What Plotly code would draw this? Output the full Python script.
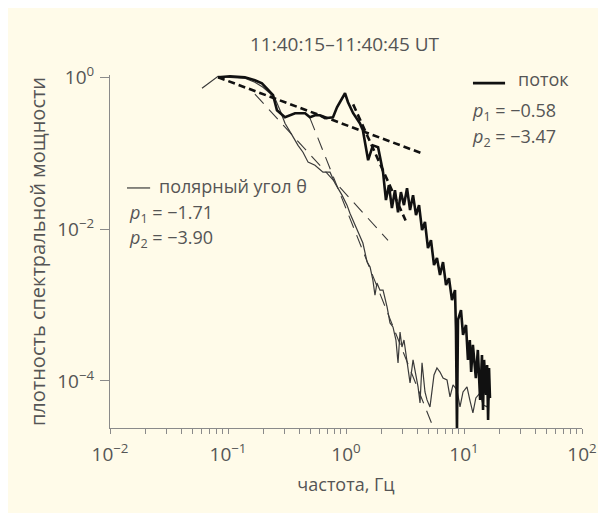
import plotly.graph_objects as go

# ---- data ----
flux_f = [0.0823, 0.104, 0.139, 0.169, 0.194, 0.241, 0.260, 0.304, 0.370, 0.450, 0.495, 0.546,
          0.602, 0.664, 0.776, 0.839, 0.981, 1.04, 1.15, 1.31, 1.39, 1.54, 1.69, 1.87, 2.06,
          2.18, 2.31, 2.45, 2.60, 2.76, 2.92, 3.10, 3.29, 3.49, 3.70, 3.92, 4.16, 4.41, 4.67,
          4.95, 5.25, 5.57, 5.90, 6.26, 6.64, 7.04, 7.46, 7.91, 8.39, 8.55, 8.72, 8.89, 9.43,
          9.81, 10.4, 10.8, 11.2, 11.5, 11.9, 12.6, 13.1, 13.7, 14.2, 14.5, 14.8, 15.4, 15.7,
          16.0, 16.3, 16.6]
flux_p = [1.0, 1.03, 1.0, 0.913, 0.834, 0.580, 0.368, 0.298, 0.336, 0.336, 0.298, 0.316,
          0.316, 0.289, 0.298, 0.403, 0.616, 0.469, 0.336, 0.248, 0.201, 0.0809, 0.127, 0.120,
          0.0562, 0.0241, 0.0379, 0.0189, 0.0326, 0.0167, 0.0307, 0.0207, 0.0346, 0.0178,
          0.0280, 0.0153, 0.0207, 0.00970, 0.0124, 0.00562, 0.00716, 0.00336, 0.00415,
          0.00248, 0.00368, 0.00183, 0.00226, 0.00116, 0.00157, 0.000469, 0.0000213,
          0.000635, 0.000859, 0.000403, 0.000546, 0.000189, 0.000346, 0.000131, 0.000298,
          0.000109, 0.000256, 0.0000562, 0.000220, 0.0000415, 0.000189, 0.0000655, 0.000162,
          0.0000307, 0.000148, 0.0000597]

theta_f = [0.0602, 0.0704, 0.0823, 0.104, 0.139, 0.169, 0.198, 0.227, 0.250, 0.276, 0.304,
           0.349, 0.392, 0.432, 0.477, 0.546, 0.638, 0.732, 0.807, 0.925, 1.02, 1.08, 1.19,
           1.31, 1.39, 1.51, 1.60, 1.69, 1.76, 1.83, 1.94, 2.06, 2.23, 2.36, 2.50, 2.65, 2.76,
           2.87, 2.98, 3.10, 3.29, 3.49, 3.70, 3.92, 4.08, 4.24, 4.41, 4.67, 4.86, 5.15, 5.35,
           5.57, 5.90, 6.26, 6.64, 7.18, 7.61, 8.07, 8.72, 9.25, 9.81, 10.6, 11.2, 11.9, 12.6,
           13.7, 14.5, 15.7, 16.3]
theta_p = [0.717, 0.859, 1.03, 1.0, 0.970, 0.859, 0.739, 0.616, 0.529, 0.368, 0.248, 0.173,
           0.127, 0.103, 0.0762, 0.0695, 0.0562, 0.0562, 0.0403, 0.0280, 0.0207, 0.0162,
           0.0113, 0.00785, 0.00655, 0.00368, 0.00316, 0.00213, 0.00135, 0.00195, 0.00157,
           0.00157, 0.000941, 0.000580, 0.000514, 0.000346, 0.000173, 0.000441, 0.000280,
           0.000346, 0.000189, 0.0000941, 0.000189, 0.000120, 0.0000834, 0.0000514, 0.000173,
           0.0000716, 0.0000562, 0.0000455, 0.0000762, 0.000120, 0.000148, 0.000131, 0.000109,
           0.000103, 0.0000616, 0.0000886, 0.0000762, 0.0000455, 0.0000716, 0.0000834,
           0.0000562, 0.0000379, 0.0000597, 0.0000695, 0.0000483, 0.0000455, 0.0000597]

# power-law fits (end points)
flux_fit1_f = [0.0823, 4.41]
flux_fit1_p = [1.0, 0.0994]
flux_fit2_f = [1.15, 3.2]
flux_fit2_p = [0.44, 0.013]
theta_fit1_f = [0.169, 2.27]
theta_fit1_p = [0.602, 0.00713]
theta_fit2_f = [0.495, 6.26]
theta_fit2_p = [0.290, 0.0000146]

x_major = [0.01, 0.1, 1, 10, 100]
x_major_text = ["10<sup>−2</sup>", "10<sup>−1</sup>", "10<sup>0</sup>", "10<sup>1</sup>", "10<sup>2</sup>"]
y_major = [1, 0.01, 0.0001]
y_major_text = ["10<sup>0</sup>", "10<sup>−2</sup>", "10<sup>−4</sup>"]

# minor tick positions (2..9 within each decade)
x_minor = [d * m for d in x_major[:-1] for m in range(2, 10)]

TXT = "#555555"
BG = "#fffbe9"
FONT = "Open Sans, Noto Sans, sans-serif"

fig = go.Figure()
fig.add_trace(go.Scatter(x=theta_f, y=theta_p, mode="lines",
                         line=dict(color="#3a3a3a", width=1.2), showlegend=False))
fig.add_trace(go.Scatter(x=theta_fit1_f, y=theta_fit1_p, mode="lines",
                         line=dict(color="#3a3a3a", width=1.1, dash="13px,8px"), showlegend=False))
fig.add_trace(go.Scatter(x=theta_fit2_f, y=theta_fit2_p, mode="lines",
                         line=dict(color="#3a3a3a", width=1.1, dash="13px,8px"), showlegend=False))
fig.add_trace(go.Scatter(x=flux_f, y=flux_p, mode="lines",
                         line=dict(color="#111111", width=2.6), showlegend=False))
fig.add_trace(go.Scatter(x=flux_fit1_f, y=flux_fit1_p, mode="lines",
                         line=dict(color="#111111", width=2.6, dash="7px,4px"), showlegend=False))
fig.add_trace(go.Scatter(x=flux_fit2_f, y=flux_fit2_p, mode="lines",
                         line=dict(color="#111111", width=2.6, dash="7px,4px"), showlegend=False))

axis_common = dict(type="log", showgrid=False, zeroline=False, showline=True, automargin=False,
                   linecolor="#8a8a8a", linewidth=1, ticks="outside", tickcolor="#8a8a8a",
                   tickfont=dict(family=FONT, size=19, color=TXT), mirror=False)

fig.update_xaxes(**axis_common, range=[-2, 2], tickmode="array", tickvals=x_major,
                 ticktext=x_major_text, ticklen=5, ticklabelstandoff=4,
                 minor=dict(tickmode="array", tickvals=x_minor, ticks="outside", ticklen=5,
                            tickcolor="#8a8a8a", showgrid=False),
                 title=dict(text="частота, Гц", font=dict(family=FONT, size=18, color=TXT),
                            standoff=12))
fig.update_yaxes(**axis_common, range=[-4.62, 0.03], tickmode="array", tickvals=y_major,
                 ticktext=y_major_text, ticklen=9, ticklabelstandoff=2,
                 title=dict(text="плотность спектральной мощности",
                            font=dict(family=FONT, size=20, color=TXT), standoff=6))

ann_font = dict(family=FONT, size=18, color=TXT)
anns = [
    dict(x=0.498, y=1.088, text="11:40:15–11:40:45 UT", xanchor="center", yanchor="middle",
         font=dict(family=FONT, size=19, color=TXT)),
    dict(x=0.860, y=0.988, text="поток", xanchor="left", yanchor="middle", font=ann_font),
    dict(x=0.763, y=0.898, text="<i>p</i><sub>1</sub> = −0.58", xanchor="left", yanchor="middle", font=ann_font),
    dict(x=0.763, y=0.824, text="<i>p</i><sub>2</sub> = −3.47", xanchor="left", yanchor="middle", font=ann_font),
    dict(x=0.0996, y=0.686, text="полярный угол θ", xanchor="left", yanchor="middle", font=ann_font),
    dict(x=0.036, y=0.609, text="<i>p</i><sub>1</sub> = −1.71", xanchor="left", yanchor="middle", font=ann_font),
    dict(x=0.036, y=0.538, text="<i>p</i><sub>2</sub> = −3.90", xanchor="left", yanchor="middle", font=ann_font),
]
for a in anns:
    a.update(xref="paper", yref="paper", showarrow=False)

shapes = [
    dict(type="line", xref="paper", yref="paper", x0=0.769, x1=0.837, y0=0.977, y1=0.977,
         line=dict(color="#111111", width=2.6)),
    dict(type="line", xref="paper", yref="paper", x0=0.036, x1=0.085, y0=0.680, y1=0.680,
         line=dict(color="#3a3a3a", width=1.2)),
]

# the page body keeps its default 8px margin, so the figure is 16px smaller
fig.update_layout(
    width=590, height=505,
    margin=dict(l=102, r=16, t=67, b=85),
    paper_bgcolor=BG, plot_bgcolor=BG,
    annotations=anns, shapes=shapes,
)

fig.write_html("out.html")
